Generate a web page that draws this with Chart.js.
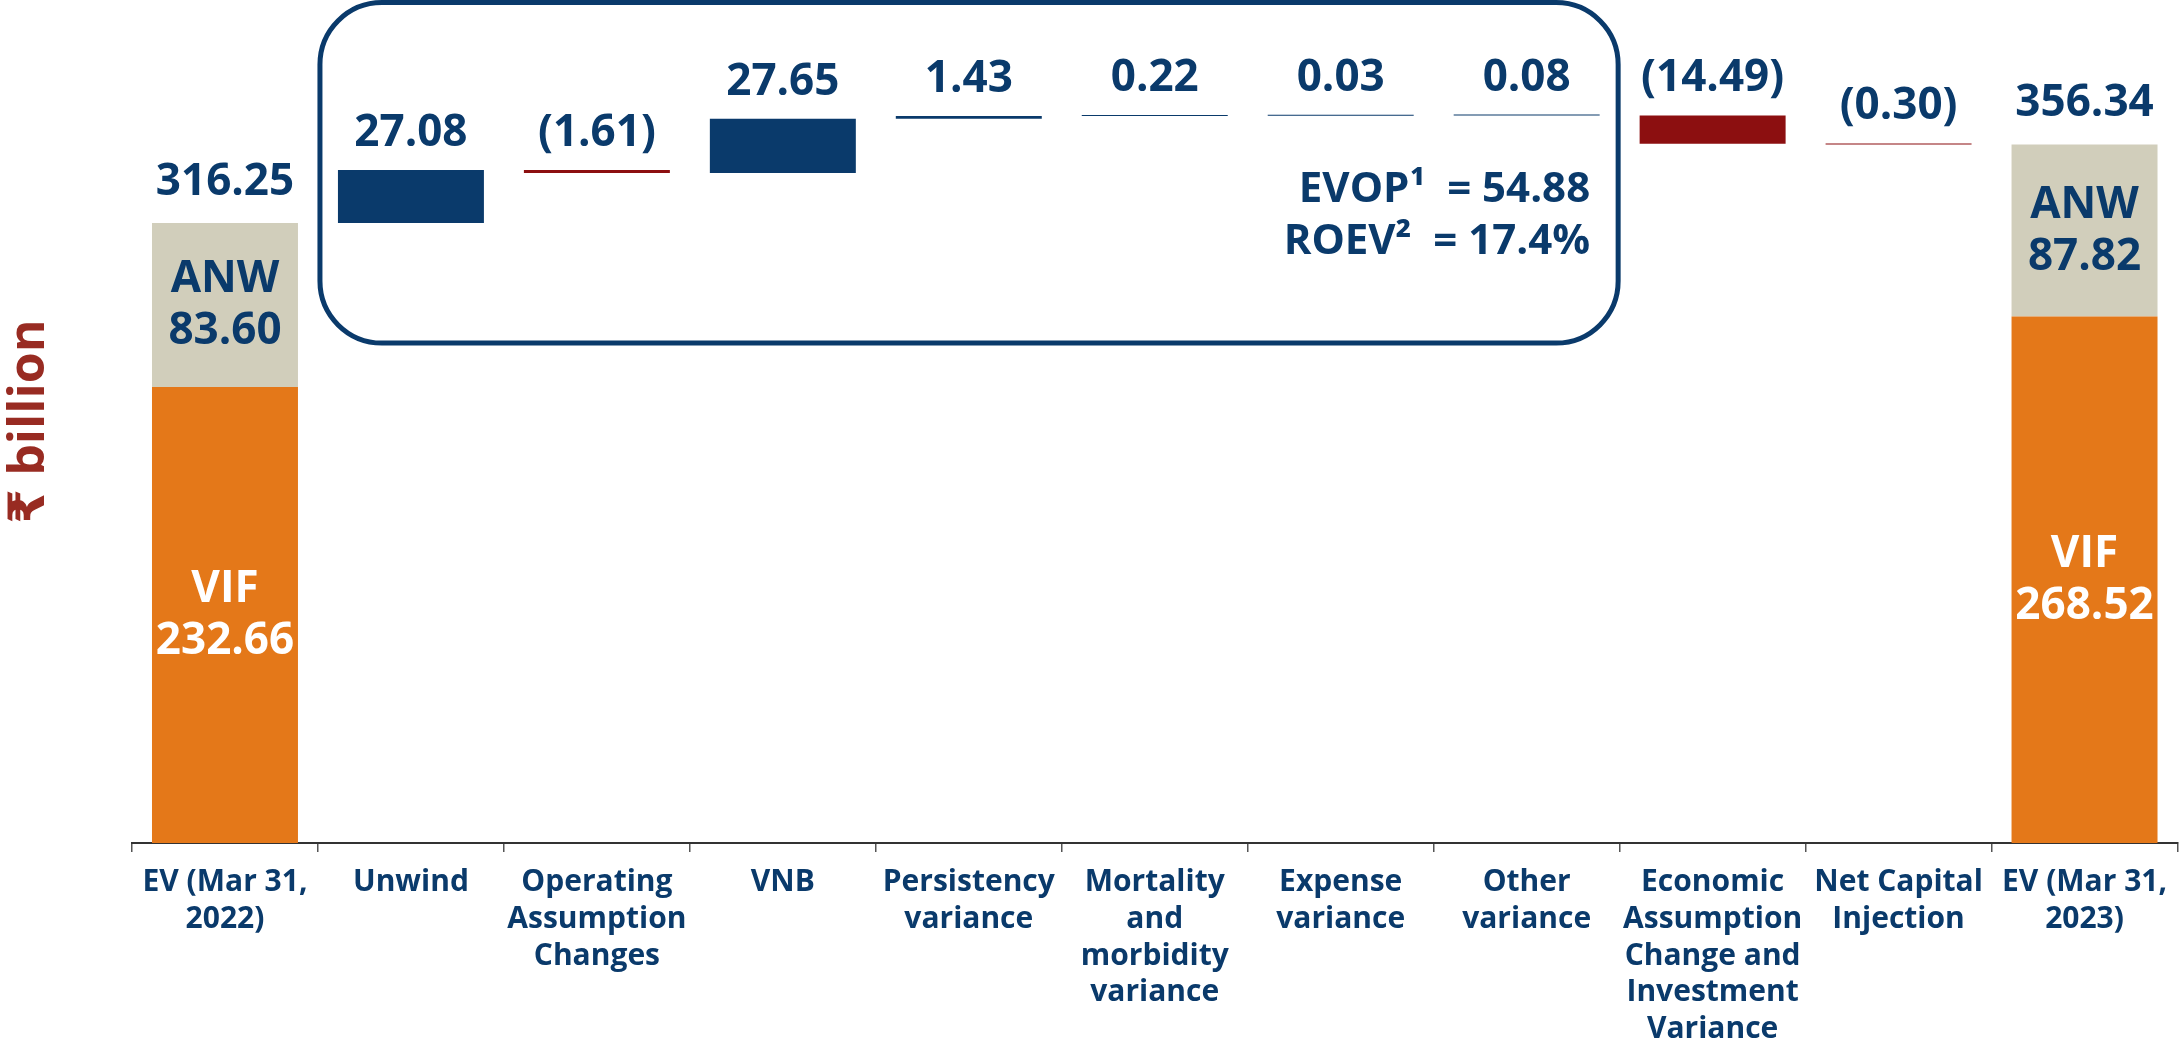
<!DOCTYPE html>
<html>
<head>
<meta charset="utf-8">
<script src="https://cdn.jsdelivr.net/npm/chart.js@4/dist/chart.umd.min.js"></script>
<style>
  html, body { margin: 0; padding: 0; background: #fff; }
  #wrap { width: 2179px; height: 1044px; position: relative; }
</style>
</head>
<body>
<div id="wrap"><canvas id="evChart"></canvas></div>
<script>
// categories shown on the x axis
const categories = [
  ['EV (Mar 31,', '2022)'],
  ['Unwind'],
  ['Operating', 'Assumption', 'Changes'],
  ['VNB'],
  ['Persistency', 'variance'],
  ['Mortality', 'and', 'morbidity', 'variance'],
  ['Expense', 'variance'],
  ['Other', 'variance'],
  ['Economic', 'Assumption', 'Change and', 'Investment', 'Variance'],
  ['Net Capital', 'Injection'],
  ['EV (Mar 31,', '2023)']
];

// opening and closing EV split (₹ billion)
const vifValues = [232.66, 268.52];
const anwValues = [83.60, 87.82];
const evTotals = [316.25, 356.34];

// movements between the two EV figures (₹ billion)
const changes = [27.08, -1.61, 27.65, 1.43, 0.22, 0.03, 0.08, -14.49, -0.30];

const evop = '54.88';
const roev = '17.4%';

const navy = '#0a3a6b';
const darkRed = '#8c0f10';
const orange = '#e47819';
const beige = '#d1cebb';
const titleRed = '#982b22';
const fontFamily = "'Open Sans', 'DejaVu Sans', sans-serif";

const last = categories.length - 1;

const vifData = categories.map((c, i) => null);
const anwData = categories.map((c, i) => null);
vifData[0] = [0, vifValues[0]];
vifData[last] = [0, vifValues[1]];
anwData[0] = [vifValues[0], vifValues[0] + anwValues[0]];
anwData[last] = [vifValues[1], vifValues[1] + anwValues[1]];

const changeData = categories.map((c, i) => null);
const changeColors = categories.map((c, i) => navy);
let running = evTotals[0];
changes.forEach((d, k) => {
  changeData[k + 1] = [running, running + d];
  changeColors[k + 1] = d < 0 ? darkRed : navy;
  running = running + d;
});

function fmt(v) {
  if (v < 0) return '(' + Math.abs(v).toFixed(2) + ')';
  return v.toFixed(2);
}

function roundRect(ctx, x, y, w, h, r) {
  ctx.beginPath();
  ctx.moveTo(x + r, y);
  ctx.lineTo(x + w - r, y);
  ctx.arcTo(x + w, y, x + w, y + r, r);
  ctx.lineTo(x + w, y + h - r);
  ctx.arcTo(x + w, y + h, x + w - r, y + h, r);
  ctx.lineTo(x + r, y + h);
  ctx.arcTo(x, y + h, x, y + h - r, r);
  ctx.lineTo(x, y + r);
  ctx.arcTo(x, y, x + r, y, r);
  ctx.closePath();
}

const labelPlugin = {
  id: 'evLabels',
  afterDatasetsDraw(chart) {
    const ctx = chart.ctx;
    const xs = chart.scales.x;
    const ys = chart.scales.y;
    const area = chart.chartArea;
    const vifMeta = chart.getDatasetMeta(0);
    const anwMeta = chart.getDatasetMeta(1);
    const chgMeta = chart.getDatasetMeta(2);

    ctx.save();
    ctx.textAlign = 'center';

    // totals and inner split labels for the two EV bars
    [0, last].forEach((idx, n) => {
      const vif = vifMeta.data[idx];
      const anw = anwMeta.data[idx];
      const anwTop = Math.min(anw.y, anw.base);
      ctx.font = 'bold 44px ' + fontFamily;
      ctx.fillStyle = navy;
      ctx.textBaseline = 'alphabetic';
      ctx.fillText(evTotals[n].toFixed(2), anw.x, anwTop - 28);

      ctx.textBaseline = 'middle';
      const anwMid = (anw.y + anw.base) / 2;
      ctx.fillText('ANW', anw.x, anwMid - 25);
      ctx.fillText(anwValues[n].toFixed(2), anw.x, anwMid + 27);

      const vifMid = (vif.y + vif.base) / 2;
      ctx.fillStyle = '#ffffff';
      ctx.fillText('VIF', vif.x, vifMid - 25);
      ctx.fillText(vifValues[n].toFixed(2), vif.x, vifMid + 27);
    });

    // movement labels
    ctx.font = 'bold 44px ' + fontFamily;
    ctx.fillStyle = navy;
    ctx.textBaseline = 'alphabetic';
    changes.forEach((d, k) => {
      const bar = chgMeta.data[k + 1];
      const top = Math.min(bar.y, bar.base);
      ctx.fillText(fmt(d), bar.x, top - 24);
    });

    // rounded box around the operating items
    const step = xs.getPixelForValue(1) - xs.getPixelForValue(0);
    const boxL = xs.getPixelForValue(1) - step / 2 + 2;
    const boxR = xs.getPixelForValue(7) + step / 2 - 1.5;
    const boxT = area.top + 2.5;
    const boxB = ys.getPixelForValue(255);
    ctx.lineWidth = 5;
    ctx.strokeStyle = navy;
    roundRect(ctx, boxL, boxT, boxR - boxL, boxB - boxT, 62);
    ctx.stroke();

    ctx.font = 'bold 42px ' + fontFamily;
    ctx.fillStyle = navy;
    ctx.textAlign = 'right';
    ctx.fillText('EVOP\u00B9  = ' + evop, boxR - 28, boxT + 199);
    ctx.fillText('ROEV\u00B2  = ' + roev, boxR - 28, boxT + 251);
    ctx.restore();
  }
};

const ctxEl = document.getElementById('evChart');

new Chart(ctxEl, {
  type: 'bar',
  data: {
    labels: categories,
    datasets: [
      {
        label: 'VIF',
        data: vifData,
        backgroundColor: orange,
      },
      {
        label: 'ANW',
        data: anwData,
        backgroundColor: beige,
      },
      {
        label: 'Change',
        data: changeData,
        backgroundColor: changeColors,
        minBarLength: 1,
      }
    ]
  },
  options: {
    responsive: true,
    maintainAspectRatio: false,
    devicePixelRatio: 1,
    animation: false,
    layout: { padding: 0 },
    datasets: {
      bar: {
        categoryPercentage: 1,
        barPercentage: 0.785,
        borderWidth: 0,
      }
    },
    plugins: {
      legend: { display: false },
      tooltip: { enabled: false },
    },
    scales: {
      x: {
        stacked: true,
        grid: {
          display: true,
          drawOnChartArea: false,
          drawTicks: true,
          tickLength: 9,
          color: '#555555',
          lineWidth: 1.5,
        },
        border: { display: true, color: '#333333', width: 2 },
        ticks: {
          autoSkip: false,
          maxRotation: 0,
          minRotation: 0,
          padding: 12,
          color: navy,
          font: { family: fontFamily, size: 30, weight: 'bold', lineHeight: 1.227 },
        },
        afterFit(scale) {
          scale.height = 201;
        }
      },
      y: {
        min: 0,
        max: 430,
        grid: { display: false },
        border: { display: false },
        ticks: { display: false },
        title: {
          display: true,
          text: '\u20B9 billion',
          color: titleRed,
          padding: { top: 0, bottom: 0 },
          font: { family: fontFamily, size: 50, weight: 'bold', lineHeight: 1.2 },
        },
        afterFit(scale) {
          scale.width = 132;
        }
      }
    }
  },
  plugins: [labelPlugin]
});
</script>
</body>
</html>
